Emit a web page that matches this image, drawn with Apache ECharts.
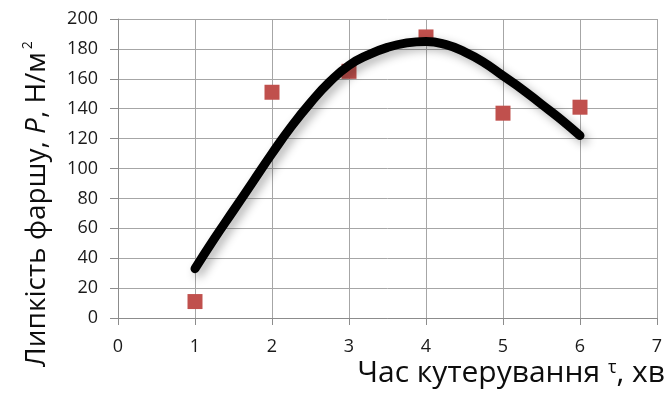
<!DOCTYPE html>
<html>
<head>
<meta charset="utf-8">
<script src="https://cdn.jsdelivr.net/npm/echarts@6/dist/echarts.min.js"></script>
<style>
  html, body { margin: 0; padding: 0; background: #fff; }
  #chart { width: 668px; height: 397px; }
</style>
</head>
<body>
<div id="chart"></div>
<script>
// measured points
var timeMin = [1, 2, 3, 4, 5, 6];
var stickiness = [11, 151, 165, 188, 137, 141];

// trend curve
var trendX = [1, 1.25, 1.5, 1.75, 2, 2.25, 2.5, 2.75, 3, 3.25, 3.5,
              3.75, 4, 4.25, 4.5, 4.75, 5, 5.25, 5.5, 5.75, 6];
var trendY = [33, 53, 72, 91, 110, 128, 144, 158, 169, 176, 181,
              184, 185, 183, 178, 171, 162, 153, 143, 133, 122];

var FONT = 'Open Sans';

function pairs(xs, ys) {
  return xs.map(function (x, i) { return [x, ys[i]]; });
}

var chart = echarts.init(document.getElementById('chart'));

chart.setOption({
  animation: false,
  grid: {
    left: 118,
    right: 11,
    top: 19,
    bottom: 79
  },
  xAxis: {
    type: 'value',
    min: 0,
    max: 7,
    interval: 1,
    axisLine: { onZero: false, lineStyle: { color: '#8c8c8c' } },
    axisTick: { show: true, length: 7, lineStyle: { color: '#8c8c8c' } },
    axisLabel: { margin: 20, color: '#1a1a1a', fontSize: 18, fontFamily: FONT },
    splitLine: { show: true, lineStyle: { color: '#a6a6a6' } }
  },
  yAxis: {
    type: 'value',
    min: 0,
    max: 200,
    interval: 20,
    axisLine: { show: true, lineStyle: { color: '#8c8c8c' } },
    axisTick: { show: true, length: 8, lineStyle: { color: '#8c8c8c' } },
    axisLabel: { margin: 20, color: '#1a1a1a', fontSize: 18, fontFamily: FONT },
    splitLine: { show: true, lineStyle: { color: '#a6a6a6' } }
  },
  graphic: [{
    type: 'text',
    x: 37,
    y: 204,
    rotation: Math.PI / 2,
    style: {
      text: 'Липкість фаршу, {i|P}, Н/м{sup|2}',
      fill: '#0d0d0d',
      font: '28px "' + FONT + '"',
      align: 'center',
      verticalAlign: 'middle',
      rich: {
        i: { fontStyle: 'italic', fontSize: 28, fontFamily: FONT, fill: '#0d0d0d' },
        sup: { fontSize: 14, fontFamily: FONT, fill: '#0d0d0d', verticalAlign: 'top', padding: [0, 0, 18, 3] }
      }
    }
  }, {
    type: 'text',
    right: 3,
    top: 358,
    style: {
      text: 'Час кутерування {t|τ}, хв',
      fill: '#0d0d0d',
      font: '30px "' + FONT + '"',
      rich: {
        t: { fontSize: 18, fontFamily: FONT, fill: '#0d0d0d', padding: [0, 0, 10, 0] }
      }
    }
  }],
  series: [{
    type: 'scatter',
    data: pairs(timeMin, stickiness),
    symbol: 'rect',
    symbolSize: 15,
    itemStyle: { color: '#c0504d', opacity: 1 },
    z: 2
  }, {
    type: 'line',
    data: pairs(trendX, trendY),
    smooth: 0.5,
    showSymbol: false,
    lineStyle: {
      color: '#000',
      width: 9,
      cap: 'round',
      join: 'round',
      shadowColor: 'rgba(0,0,0,0.3)',
      shadowBlur: 10,
      shadowOffsetX: 4,
      shadowOffsetY: 4
    },
    z: 3
  }]
});
</script>
</body>
</html>
